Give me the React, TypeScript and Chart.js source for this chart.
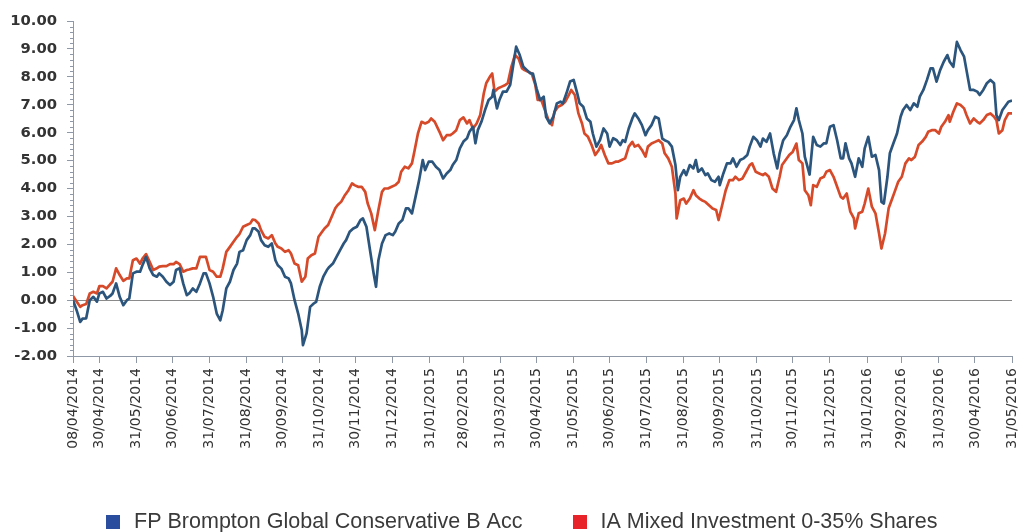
import React, { useEffect, useRef } from 'react';
import { Chart, registerables } from 'chart.js';

Chart.register(...registerables);

const seriesNames = ['FP Brompton Global Conservative B Acc', 'IA Mixed Investment 0-35% Shares'];

const tickLabels = [
  '08/04/2014', '30/04/2014', '31/05/2014', '30/06/2014', '31/07/2014', '31/08/2014', '30/09/2014',
  '31/10/2014', '30/11/2014', '31/12/2014', '31/01/2015', '28/02/2015', '31/03/2015', '30/04/2015',
  '31/05/2015', '30/06/2015', '31/07/2015', '31/08/2015', '30/09/2015', '31/10/2015', '30/11/2015',
  '31/12/2015', '31/01/2016', '29/02/2016', '31/03/2016', '30/04/2016', '31/05/2016',
];

// days since 08/04/2014
const fundDays = [
  0, 3, 6, 8, 11, 14, 17, 20, 22, 25, 28, 31, 33, 36, 39, 42, 45, 47, 50, 53, 56, 58, 61, 64, 67, 70, 72, 75, 78, 81,
  84, 86, 89, 92, 95, 97, 100, 103, 106, 109, 111, 114, 117, 120, 123, 125, 128, 131, 134, 137, 139, 142, 145, 148, 150, 152,
  155, 157, 160, 163, 166, 169, 171, 174, 177, 180, 182, 185, 188, 191, 192, 195, 198, 201, 203, 206, 209, 212, 214, 217,
  220, 223, 226, 228, 231, 234, 237, 240, 242, 245, 248, 251, 253, 255, 258, 261, 264, 267, 269, 272, 275, 278, 280, 283,
  286, 289, 292, 294, 297, 300, 303, 306,
  309, 312, 315, 317, 320, 323, 326, 329, 331, 334, 336, 338, 341, 344, 347, 350, 351, 354, 356, 359, 362, 365, 368, 370,
  373, 376, 379, 382, 384, 387, 390, 393, 395, 398, 401, 404, 407, 409, 412, 415, 418, 421, 423, 426, 429, 432, 434, 437,
  440, 443, 446, 448, 451, 454, 457, 459,
  461, 464, 467, 469, 472, 475, 478, 480, 483, 486, 489, 492, 494, 497, 500, 503, 505, 507, 510, 512, 515, 518, 520, 522,
  525, 528, 530, 533, 536, 539, 540, 543, 546, 549, 551, 554, 557, 560, 563, 565, 568, 571, 574, 576, 579, 582, 585, 588,
  590, 593, 596, 599, 602, 604, 606, 609, 611, 615,
  618, 621, 624, 627, 629, 632, 635, 638, 641, 643, 645, 648, 650, 653, 656, 659, 661, 664, 667, 670, 673, 675, 677, 680,
  682, 685, 688, 691, 693, 696, 699, 702, 705, 707, 710, 713, 716, 718, 721, 724, 727, 730, 732, 735, 738, 741, 744, 746,
  749, 752, 755, 757, 760, 763, 766, 769, 771, 773, 776, 778, 781, 784,
];
const fundValues = [
  0.0, -0.36, -0.78, -0.66, -0.65, 0.0, 0.12, -0.05, 0.24, 0.3, 0.06, 0.15, 0.24, 0.6, 0.12, -0.18, 0.0, 0.06, 0.96, 1.02,
  1.02, 1.25, 1.55, 1.14, 0.9, 0.84, 0.96, 0.84, 0.66, 0.54,
  0.66, 1.08, 1.14, 0.6, 0.18, 0.24, 0.42, 0.3, 0.6, 0.96, 0.96, 0.6, 0.12, -0.48, -0.72, -0.36, 0.42, 0.66, 1.08, 1.31,
  1.73, 1.79, 2.15, 2.33, 2.57, 2.57,
  2.45, 2.15, 1.97, 1.91, 2.03, 1.43, 1.25, 1.13, 0.84, 0.78, 0.6, 0.0, -0.48, -1.08, -1.61, -1.19, -0.24, -0.12, -0.06, 0.48,
  0.84, 1.08, 1.19, 1.31,
  1.55, 1.79, 2.03, 2.15, 2.45, 2.57, 2.63, 2.87, 2.93, 2.63, 1.79, 0.96, 0.48, 1.43, 2.03, 2.33, 2.39, 2.33, 2.45, 2.75,
  2.87, 3.29, 3.29, 3.11,
  3.7, 4.3, 5.02, 4.66, 4.96, 4.96, 4.78, 4.66,
  4.36, 4.54, 4.66, 4.84, 5.02, 5.44, 5.68, 5.8, 6.03, 6.21, 5.62, 6.09, 6.39, 6.81, 7.17, 7.29, 7.53, 6.87, 7.17, 7.47,
  7.47, 7.71, 8.54, 9.08,
  8.78, 8.36, 8.24, 8.12, 8.12, 7.59, 7.17, 7.29, 6.57, 6.33, 6.57, 7.05, 7.11, 7.05, 7.41, 7.83, 7.89, 7.41, 7.05, 6.93,
  6.51, 6.39, 5.97, 5.5,
  5.73, 6.15, 5.97, 5.5, 5.8, 5.73, 5.56, 5.73,
  5.67, 6.15, 6.51, 6.69, 6.51, 6.27, 5.91, 6.09, 6.27, 6.57, 6.51, 5.79, 5.73, 5.67, 5.5, 4.84, 3.94, 4.42, 4.66, 4.48,
  4.84, 4.72, 5.02, 4.6,
  4.72, 4.48, 4.54, 4.3, 4.24, 4.42, 4.12, 4.54, 4.9, 4.9, 5.08, 4.78, 5.02, 5.08, 5.2, 5.5, 5.85, 5.73, 5.5, 5.79, 5.67,
  5.97, 5.26, 4.72,
  5.26, 5.73, 5.91, 6.21, 6.45, 6.87, 6.45, 5.97, 5.14, 4.5,
  5.85, 5.56, 5.5, 5.62, 5.62, 6.21, 6.27, 5.73, 5.08, 5.08, 5.62, 5.08, 4.9, 4.42, 5.08, 4.78, 5.44, 5.85, 5.14, 5.2,
  4.66, 3.52, 3.46, 4.42,
  5.26, 5.62, 5.97, 6.57, 6.81, 6.99, 6.81, 7.05, 6.93, 7.29, 7.53, 7.89, 8.3, 8.3, 7.83, 8.24, 8.54, 8.78, 8.54, 8.36,
  9.25, 8.96, 8.72, 8.24,
  7.53, 7.53, 7.47, 7.35, 7.53, 7.77, 7.89, 7.77, 6.63, 6.45, 6.81, 6.93, 7.11, 7.15,
];

const sectorDays = [
  0, 3, 6, 8, 11, 14, 17, 20, 22, 25, 28, 31, 33, 36, 39, 42, 45, 47, 50, 53, 56, 58, 61, 64, 67, 70, 72, 75, 78, 81,
  84, 86, 89, 92, 95, 97, 100, 103, 106, 109, 111, 114, 117, 120, 123, 125, 128, 131, 134, 137, 139, 142, 145, 148, 150, 152,
  155, 157, 160, 163, 166, 169, 171, 174, 177, 180, 182, 185, 188, 191, 194, 196, 199, 202, 205, 208, 210, 213, 216, 219,
  221, 224, 227, 230, 233, 235, 238, 241, 244, 246, 249, 252, 255, 258, 260, 263, 266, 269, 272, 274, 277, 280, 283, 285,
  288, 291, 294, 297, 299, 302,
  306, 309, 312, 315, 317, 320, 323, 326, 329, 331, 334, 337, 340, 343, 345, 348, 350, 352, 355, 358, 361, 363, 366, 369,
  372, 375, 377, 380, 383, 386, 388, 391, 394, 397, 400, 402, 405, 408, 411, 414, 416, 419, 422, 425, 427, 430, 433, 436,
  439, 441, 444, 447, 450, 453, 455, 458,
  461, 464, 467, 469, 472, 475, 478, 480, 483, 486, 489, 492, 494, 497, 500, 503, 504, 507, 510, 512, 515, 518, 520, 523,
  525, 528, 531, 534, 537, 539, 542, 545, 548, 551, 553, 556, 559, 562, 565, 567, 570, 573, 576, 578, 581, 584, 587, 590,
  592, 595, 598, 601, 604, 606, 609, 611, 614, 616,
  618, 621, 624, 627, 629, 632, 635, 638, 641, 643, 646, 649, 652, 653, 656, 659, 661, 664, 667, 670, 673, 675, 678, 681,
  684, 686, 689, 692, 695, 698, 700, 703, 706, 709, 712, 714, 717, 720, 723, 725, 728, 731, 732, 735, 738, 741, 744, 746,
  749, 752, 755, 757, 760, 763, 766, 769, 771, 773, 776, 778, 781, 784,
];
const sectorValues = [
  0.15, -0.05, -0.24, -0.18, -0.14, 0.24, 0.3, 0.24, 0.5, 0.5, 0.42, 0.57, 0.66, 1.14, 0.9, 0.69, 0.78, 0.78, 1.43, 1.49,
  1.31, 1.49, 1.65, 1.37, 1.08, 1.14, 1.2, 1.22, 1.22, 1.29,
  1.29, 1.37, 1.29, 1.02, 1.08, 1.1, 1.14, 1.14, 1.55, 1.55, 1.55, 1.08, 1.02, 0.84, 0.84, 1.14, 1.73, 1.91, 2.09, 2.27,
  2.37, 2.63, 2.69, 2.75, 2.89, 2.87,
  2.75, 2.51, 2.27, 2.21, 2.33, 2.03, 1.91, 1.85, 1.73, 1.79, 1.67, 1.31, 1.25, 0.66, 0.84, 1.49, 1.61, 1.67, 2.27, 2.45,
  2.57, 2.69, 2.99, 3.29,
  3.41, 3.53, 3.76, 3.94, 4.18, 4.12, 4.06, 4.06, 3.88, 3.47, 3.11, 2.51, 3.23, 3.88, 4.0, 4.0, 4.06, 4.12, 4.24, 4.6,
  4.78, 4.72, 4.9, 5.32,
  5.97, 6.39, 6.33, 6.39, 6.51, 6.39,
  6.03, 5.73, 5.91, 5.91, 5.97, 6.09, 6.45, 6.55, 6.33, 6.45, 6.15, 6.33, 6.63, 7.41, 7.77, 8.0, 8.12, 7.47, 7.59, 7.65,
  7.71, 7.77, 8.36, 8.78,
  8.66, 8.3, 8.24, 8.18, 8.12, 7.71, 7.17, 7.17, 6.81, 6.45, 6.27, 6.75, 6.93, 6.99, 7.11, 7.35, 7.53, 7.35, 6.69, 6.33,
  5.97, 5.85, 5.56, 5.2,
  5.38, 5.56, 5.2, 4.9, 4.9, 4.96, 4.96, 5.02,
  5.08, 5.5, 5.67, 5.5, 5.56, 5.38, 5.14, 5.5, 5.61, 5.67, 5.73, 5.61, 5.26, 5.08, 4.78, 3.82, 2.93, 3.58, 3.64, 3.46,
  3.64, 3.94, 3.76, 3.64,
  3.58, 3.52, 3.4, 3.28, 3.23, 2.87, 3.4, 3.94, 4.3, 4.3, 4.42, 4.3, 4.36, 4.6, 4.84, 4.9, 4.6, 4.54, 4.48, 4.54, 4.42,
  4.0, 3.88, 4.42,
  4.84, 5.02, 5.2, 5.32, 5.61, 5.02, 4.9, 3.94, 3.76, 3.4,
  4.12, 4.06, 4.36, 4.42, 4.6, 4.66, 4.42, 4.06, 3.7, 3.64, 3.82, 3.17, 2.93, 2.57, 3.11, 3.17, 3.46, 4.0, 3.35, 3.11,
  2.39, 1.85, 2.39, 3.29,
  3.64, 3.88, 4.24, 4.42, 4.9, 5.08, 5.02, 5.14, 5.56, 5.68, 5.85, 6.03, 6.09, 6.09, 5.97, 6.21, 6.39, 6.63, 6.39, 6.75,
  7.05, 6.99, 6.87, 6.63,
  6.33, 6.51, 6.39, 6.33, 6.45, 6.63, 6.69, 6.57, 6.45, 5.97, 6.09, 6.45, 6.69, 6.69,
];

const FUND_LINE = '#2c557d';
const SECTOR_LINE = '#d64a2a';
const legendColors = ['#2b4d9e', '#e8232a'];
const AXIS = '#8e98a6';
const ZERO = '#8a8a8a';
const TEXT = '#333333';

const parseDate = (s: string) => {
  const [d, m, y] = s.split('/').map(Number);
  return Date.UTC(y, m - 1, d);
};
const startMs = parseDate(tickLabels[0]);
const tickDays = tickLabels.map((s) => Math.round((parseDate(s) - startMs) / 86400000));

const makeSwatch = (color: string) => {
  const c = document.createElement('canvas');
  c.width = 14;
  c.height = 14;
  const g = c.getContext('2d');
  if (g) {
    g.fillStyle = color;
    g.fillRect(0, 0, 14, 14);
  }
  return c;
};

const minorTicks = {
  id: 'minorTicks',
  afterDraw(chart: any) {
    const y = chart.scales.y;
    const ctx = chart.ctx;
    ctx.save();
    ctx.strokeStyle = AXIS;
    ctx.lineWidth = 1;
    ctx.beginPath();
    const steps = Math.round((y.max - y.min) / 0.2);
    for (let i = 0; i <= steps; i++) {
      if (i % 5 === 0) continue;
      const v = y.min + i * 0.2;
      const py = Math.round(y.getPixelForValue(v)) + 0.5;
      ctx.moveTo(y.right - 3, py);
      ctx.lineTo(y.right, py);
    }
    ctx.stroke();
    ctx.restore();
  },
};

export default function App() {
  const ref = useRef<HTMLCanvasElement | null>(null);

  useEffect(() => {
    if (!ref.current) return;
    const swatches = legendColors.map(makeSwatch);
    const chart = new Chart(ref.current, {
      type: 'line',
      data: {
        datasets: [
          {
            label: seriesNames[0],
            data: fundDays.map((d, i) => ({ x: d, y: fundValues[i] })),
            borderColor: FUND_LINE,
            backgroundColor: legendColors[0],
            borderWidth: 2.7,
            pointRadius: 0,
            tension: 0,
            borderJoinStyle: 'round',
            fill: false,
          },
          {
            label: seriesNames[1],
            data: sectorDays.map((d, i) => ({ x: d, y: sectorValues[i] })),
            borderColor: SECTOR_LINE,
            backgroundColor: legendColors[1],
            borderWidth: 2.7,
            pointRadius: 0,
            tension: 0,
            borderJoinStyle: 'round',
            fill: false,
          },
        ],
      },
      options: {
        animation: false,
        responsive: false,
        devicePixelRatio: 1,
        layout: { padding: { left: 3.75, right: 0, top: 21, bottom: 0 } },
        plugins: {
          tooltip: { enabled: false },
          legend: {
            position: 'bottom',
            align: 'center',
            labels: {
              usePointStyle: true,
              pointStyleWidth: 20,
              boxWidth: 14,
              boxHeight: 14,
              padding: 47.25,
              color: TEXT,
              font: { family: 'Liberation Sans', size: 21.5 },
              generateLabels: (c: any) =>
                c.data.datasets.map((ds: any, i: number) => ({
                  text: ds.label,
                  fillStyle: legendColors[i],
                  strokeStyle: legendColors[i],
                  lineWidth: 0,
                  pointStyle: swatches[i],
                  fontColor: '#3a3a3a',
                  hidden: false,
                  datasetIndex: i,
                })),
            },
          },
        },
        scales: {
          x: {
            type: 'linear',
            min: tickDays[0],
            max: tickDays[tickDays.length - 1],
            afterBuildTicks: (s: any) => {
              s.ticks = tickDays.map((v) => ({ value: v }));
            },
            afterFit: (s: any) => {
              s.height = 108.25;
              s.paddingLeft = 0;
              s.paddingRight = 25;
            },
            ticks: {
              autoSkip: false,
              minRotation: 90,
              maxRotation: 90,
              padding: 5,
              color: TEXT,
              font: { family: 'DejaVu Sans', size: 14 },
              callback: (v: any) => {
                const i = tickDays.indexOf(Number(v));
                return i >= 0 ? tickLabels[i] : '';
              },
            },
            grid: { drawOnChartArea: false, tickLength: 7, tickColor: AXIS },
            border: { color: AXIS, width: 1 },
          },
          y: {
            min: -2,
            max: 10,
            afterFit: (s: any) => {
              s.width = 69.25;
              s.paddingTop = 0;
              s.paddingBottom = 0;
            },
            ticks: {
              stepSize: 1,
              padding: 10,
              color: TEXT,
              font: { family: 'DejaVu Sans', size: 14.8, weight: 'bold' },
              callback: (v: any) => Number(v).toFixed(2),
            },
            grid: {
              color: (c: any) => (c.tick && c.tick.value === 0 ? ZERO : 'rgba(0,0,0,0)'),
              tickColor: AXIS,
              tickLength: 6,
            },
            border: { color: AXIS, width: 1 },
          },
        },
      } as any,
      plugins: [minorTicks],
    });
    return () => chart.destroy();
  }, []);

  return (
    <div style={{ position: 'fixed', left: 0, top: 0, width: 1019, height: 532, overflow: 'hidden', background: '#fff' }}>
      <canvas ref={ref} width={1037} height={543} style={{ width: 1037, height: 543, display: 'block' }} />
    </div>
  );
}
